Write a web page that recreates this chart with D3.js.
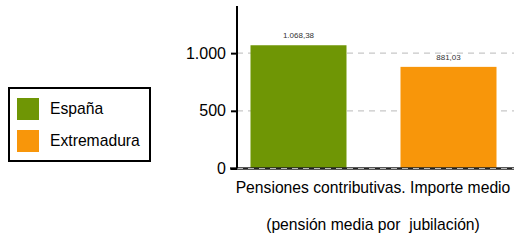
<!DOCTYPE html>
<html lang="es">
<head>
  <meta charset="UTF-8">
  <title>Pensiones contributivas</title>
  <script src="https://d3js.org/d3.v7.min.js"></script>
  <style>
    body { margin: 0; background: #fff; font-family: "Liberation Sans", Arial, sans-serif; }
    svg { display: block; }
    text { white-space: pre; }
  </style>
</head>
<body>
  <svg id="chart"></svg>
  <script>
    const regions = ["España", "Extremadura"];
    const values = [1068.38, 881.03];
    const colors = ["#6f9605", "#f8960a"];
    const yTicks = [0, 500, 1000];
    const categoryLines = ["Pensiones contributivas. Importe medio", "(pensión media por  jubilación)"];

    const width = 514, height = 241;
    const svg = d3.select("#chart").attr("width", width).attr("height", height);

    const x0 = 237, x1 = 510, yBottom = 168.5, yTop = 7;

    const y = d3.scaleLinear().domain([0, 1400]).range([yBottom, yTop]);
    const x = d3.scaleBand().domain(regions).range([x0, x1])
      .paddingInner(0.36).paddingOuter(0.09);

    const fmt = d3.formatLocale({ decimal: ",", thousands: ".", grouping: [3], currency: ["", "€"] });

    // gridlines
    svg.append("g")
      .selectAll("line")
      .data(yTicks)
      .join("line")
      .attr("x1", x0).attr("x2", width)
      .attr("y1", d => y(d)).attr("y2", d => y(d))
      .attr("stroke", "#c8c8c8")
      .attr("stroke-width", 1.3)
      .attr("stroke-dasharray", "6,5");

    // bars
    svg.append("g")
      .selectAll("rect")
      .data(regions)
      .join("rect")
      .attr("x", d => x(d))
      .attr("width", x.bandwidth())
      .attr("y", (d, i) => y(values[i]))
      .attr("height", (d, i) => y(0) - y(values[i]))
      .attr("fill", (d, i) => colors[i]);

    // value labels
    svg.append("g")
      .selectAll("text")
      .data(regions)
      .join("text")
      .attr("x", d => x(d) + x.bandwidth() / 2)
      .attr("y", (d, i) => y(values[i]) - 7)
      .attr("text-anchor", "middle")
      .attr("font-size", 8)
      .attr("fill", "#333")
      .text((d, i) => fmt.format(",.2f")(values[i]));

    // zero baseline
    svg.append("line")
      .attr("x1", 230).attr("x2", width)
      .attr("y1", y(0)).attr("y2", y(0))
      .attr("stroke", "#222").attr("stroke-width", 2.5);
    svg.append("line")
      .attr("x1", x0).attr("x2", width)
      .attr("y1", y(0)).attr("y2", y(0))
      .attr("stroke", "#bbb").attr("stroke-width", 1)
      .attr("stroke-dasharray", "6,5");

    // y axis
    const yAxis = d3.axisLeft(y).tickValues(yTicks).tickSize(6).tickPadding(5)
      .tickFormat(d => fmt.format(",d")(d));
    const gy = svg.append("g").attr("transform", `translate(${x0},0)`).call(yAxis);
    gy.select(".domain").attr("stroke", "#000").attr("stroke-width", 2)
      .attr("d", `M0,${yTop - 1}V${yBottom}`);
    gy.selectAll(".tick line").attr("stroke", "#000").attr("stroke-width", 2);
    gy.selectAll(".tick text").attr("font-size", 16).attr("fill", "#000")
      .attr("font-family", "Liberation Sans, Arial, sans-serif");

    // category label
    const cx = 373;
    svg.append("g")
      .selectAll("text")
      .data(categoryLines)
      .join("text")
      .attr("x", cx)
      .attr("y", (d, i) => 193 + i * 37)
      .attr("text-anchor", "middle")
      .attr("font-size", 15.7)
      .attr("fill", "#000")
      .text(d => d);

    // legend
    const legend = svg.append("g");
    legend.append("rect")
      .attr("x", 9).attr("y", 88).attr("width", 141).attr("height", 73)
      .attr("fill", "#fff").attr("stroke", "#000").attr("stroke-width", 2);
    const items = legend.selectAll("g.item")
      .data(regions)
      .join("g")
      .attr("class", "item")
      .attr("transform", (d, i) => `translate(17,${98 + i * 32})`);
    items.append("rect")
      .attr("width", 22).attr("height", 22)
      .attr("fill", (d, i) => colors[i]);
    items.append("text")
      .attr("x", 33).attr("y", 16)
      .attr("font-size", 15.7)
      .attr("fill", "#000")
      .text(d => d);
  </script>
</body>
</html>
